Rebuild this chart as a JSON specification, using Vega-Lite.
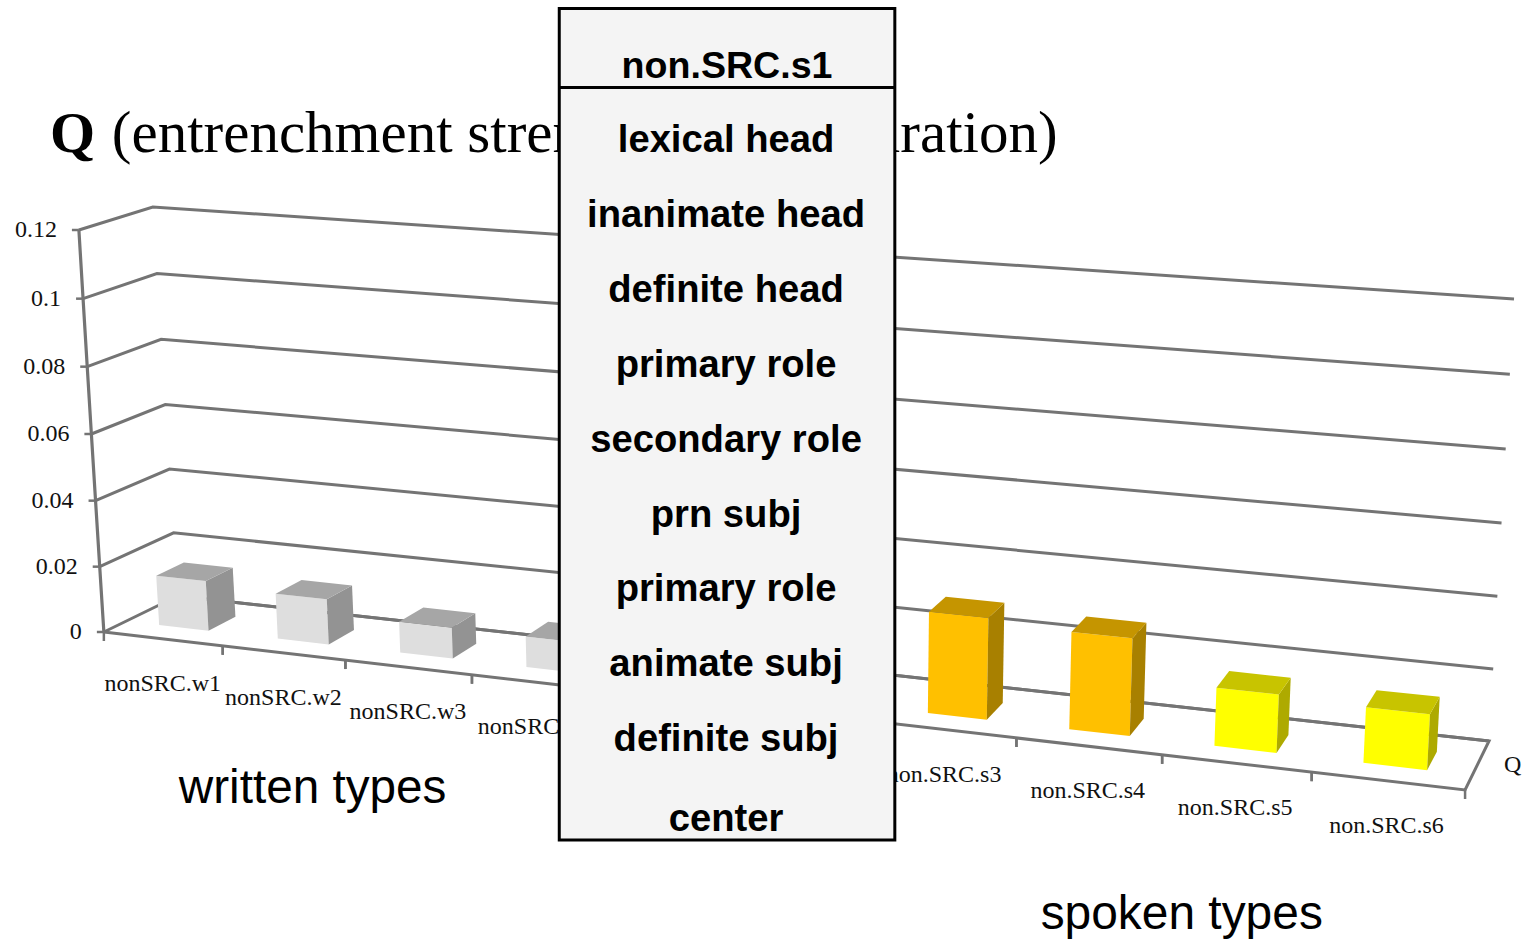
{"$schema":"https://vega.github.io/schema/vega-lite/v6.json","width":1522,"height":939,"padding":0,"autosize":{"type":"fit","contains":"padding"},"background":"white","config":{"view":{"stroke":null},"axis":{"disable":true}},
"datasets":{"bars":[{"label":"nonSRC.w1","type":"written","bar":1,"value":0.0148},{"label":"nonSRC.w2","type":"written","bar":2,"value":0.0133},{"label":"nonSRC.w3","type":"written","bar":3,"value":0.009},{"label":"nonSRC.w4","type":"written","bar":4,"value":0.0088},{"label":"non.SRC.s1","type":"spoken1","bar":5,"value":0.02},{"label":"non.SRC.s2","type":"spoken1","bar":6,"value":0.022},{"label":"non.SRC.s3","type":"spoken1","bar":7,"value":0.028},{"label":"non.SRC.s4","type":"spoken1","bar":8,"value":0.0265},{"label":"non.SRC.s5","type":"spoken2","bar":9,"value":0.0156},{"label":"non.SRC.s6","type":"spoken2","bar":10,"value":0.0147}],
"grid":[{"value":0},{"value":0.02},{"value":0.04},{"value":0.06},{"value":0.08},{"value":0.1},{"value":0.12}],
"box":[{"text":"lexical head","line":0},{"text":"inanimate head","line":1},{"text":"definite head","line":2},{"text":"primary role","line":3},{"text":"secondary role","line":4},{"text":"prn subj","line":5},{"text":"primary role","line":6},{"text":"animate subj","line":7},{"text":"definite subj","line":8}]},
"encoding":{"x":{"field":"px","type":"quantitative","scale":{"domain":[0,1522],"nice":false,"zero":false},"axis":null},"y":{"field":"py","type":"quantitative","scale":{"domain":[939,0],"nice":false,"zero":false},"axis":null}},
"layer":[
{"data":{"name":"grid"},"transform":[{"calculate":"[{n:0,s:0,D:0},{n:1,s:0,D:1},{n:2,s:1,D:1}]","as":"corner"},{"flatten":["corner"]},{"calculate":"datum.corner.s","as":"t"},{"calculate":"datum.corner.D","as":"D"},{"calculate":"datum.corner.n","as":"n"},{"calculate":"datum.value/0.12","as":"f"},{"calculate":"104+1363*datum.t+(74-50*datum.t)*datum.D+datum.f*(-25+50*datum.t)","as":"px"},{"calculate":"632+158*datum.t+(-36-13*datum.t)*datum.D-datum.f*((402+63*datum.t)*(1-datum.D)+(389+53*datum.t)*datum.D)+12*datum.f*(1-datum.f)","as":"py"}],"mark":{"type":"line","color":"#747474","strokeWidth":3},"encoding":{"detail":{"field":"value","type":"nominal"},"order":{"field":"n","type":"quantitative"}}},
{"data":{"name":"grid"},"transform":[{"filter":"datum.value==0"},{"calculate":"[{n:0,s:0,D:1},{n:1,s:1,D:1},{n:2,s:1,D:0},{n:3,s:0,D:0}]","as":"corner"},{"flatten":["corner"]},{"calculate":"datum.corner.s","as":"t"},{"calculate":"datum.corner.D","as":"D"},{"calculate":"datum.corner.n","as":"n"},{"calculate":"104+1363*datum.t+(74-50*datum.t)*datum.D","as":"px"},{"calculate":"632+158*datum.t+(-36-13*datum.t)*datum.D","as":"py"}],"mark":{"type":"line","color":"#747474","strokeWidth":3},"encoding":{"order":{"field":"n","type":"quantitative"}}},
{"data":{"name":"grid"},"transform":[{"calculate":"datum.value/0.12","as":"f"},{"calculate":"104-datum.f*25","as":"px"},{"calculate":"632-datum.f*402+12*datum.f*(1-datum.f)","as":"py"},{"calculate":"datum.px-7","as":"px2"}],"layer":[{"mark":{"type":"line","color":"#747474","strokeWidth":3.2},"encoding":{"order":{"field":"value","type":"quantitative"}}},{"mark":{"type":"rule","color":"#747474","strokeWidth":2.5},"encoding":{"x2":{"field":"px2"}}},{"mark":{"type":"text","align":"right","baseline":"middle","dx":-22,"font":"Liberation Serif","fontSize":24,"color":"#111111"},"encoding":{"text":{"field":"value","type":"nominal"}}}]},
{"data":{"name":"bars"},"transform":[{"calculate":"[0,1]","as":"u"},{"flatten":["u"]},{"calculate":"datum.bar-1+datum.u","as":"i"},{"calculate":"(117.1*datum.i+1.92*datum.i*datum.i)/1363","as":"t"},{"calculate":"104+1363*datum.t","as":"px"},{"calculate":"632+158*datum.t","as":"py"},{"calculate":"datum.py+9","as":"py2"}],"mark":{"type":"rule","color":"#747474","strokeWidth":2.5},"encoding":{"y2":{"field":"py2"}}},
{"data":{"name":"bars"},"transform":[{"calculate":"[{f:'front',n:0,u:0,d:0,h:0},{f:'front',n:1,u:1,d:0,h:0},{f:'front',n:2,u:1,d:0,h:1},{f:'front',n:3,u:0,d:0,h:1},{f:'side',n:0,u:1,d:0,h:0},{f:'side',n:1,u:1,d:1,h:0},{f:'side',n:2,u:1,d:1,h:1},{f:'side',n:3,u:1,d:0,h:1},{f:'top',n:0,u:0,d:0,h:1},{f:'top',n:1,u:1,d:0,h:1},{f:'top',n:2,u:1,d:1,h:1},{f:'top',n:3,u:0,d:1,h:1}]","as":"corner"},{"flatten":["corner"]},{"calculate":"datum.corner.n","as":"n"},{"calculate":"datum.bar-0.715+0.42*datum.corner.u","as":"i"},{"calculate":"0.3+0.38*datum.corner.d","as":"D"},{"calculate":"datum.corner.h*datum.value","as":"V"},{"calculate":"(117.1*datum.i+1.92*datum.i*datum.i)/1363","as":"t"},{"calculate":"104+1363*datum.t+(74-50*datum.t)*datum.D+datum.V/0.12*(-25+50*datum.t)","as":"px"},{"calculate":"632+158*datum.t+(-36-13*datum.t)*datum.D-datum.V/0.12*((402+63*datum.t)*(1-datum.D)+(389+53*datum.t)*datum.D)","as":"py"},{"calculate":"datum.type+'-'+datum.corner.f","as":"shade"},{"calculate":"datum.label+'-'+datum.corner.f","as":"face"}],"mark":{"type":"line","filled":true,"strokeWidth":0},"encoding":{"color":{"field":"shade","type":"nominal","legend":null,"scale":{"domain":["written-front","written-side","written-top","spoken1-front","spoken1-side","spoken1-top","spoken2-front","spoken2-side","spoken2-top"],"range":["#dedede","#939393","#a6a6a6","#ffc000","#a88000","#c59500","#ffff00","#aeaa00","#c8c400"]}},"detail":{"field":"face","type":"nominal"},"order":{"field":"n","type":"quantitative"}}},
{"data":{"name":"bars"},"transform":[{"calculate":"datum.bar-0.5","as":"i"},{"calculate":"(117.1*datum.i+1.92*datum.i*datum.i)/1363","as":"t"},{"calculate":"104+1363*datum.t-1.5*datum.t","as":"px"},{"calculate":"632+158*datum.t+45","as":"py"}],"mark":{"type":"text","align":"center","baseline":"middle","font":"Liberation Serif","fontSize":24,"color":"#111111"},"encoding":{"text":{"field":"label","type":"nominal"}}},
{"data":{"values":[{"t":"Q"}]},"transform":[{"calculate":"1506","as":"px"},{"calculate":"765","as":"py"}],"mark":{"type":"text","align":"left","baseline":"middle","font":"Liberation Serif","fontSize":24,"color":"#111111"},"encoding":{"text":{"field":"t"}}},
{"data":{"values":[{"t":"Q"}]},"transform":[{"calculate":"50","as":"px"},{"calculate":"152","as":"py"}],"mark":{"type":"text","align":"left","baseline":"alphabetic","font":"Liberation Serif","fontSize":58,"fontWeight":"bold","color":"#000000"},"encoding":{"text":{"field":"t"}}},
{"data":{"values":[{"t":"(entrenchment strength"}]},"transform":[{"calculate":"112","as":"px"},{"calculate":"152","as":"py"}],"mark":{"type":"text","align":"left","baseline":"alphabetic","font":"Liberation Serif","fontSize":59,"color":"#000000"},"encoding":{"text":{"field":"t"}}},
{"data":{"values":[{"t":"configuration)"}]},"transform":[{"calculate":"1059","as":"px"},{"calculate":"152","as":"py"}],"mark":{"type":"text","align":"right","baseline":"alphabetic","font":"Liberation Serif","fontSize":59,"color":"#000000"},"encoding":{"text":{"field":"t"}}},
{"data":{"values":[{"t":"written types"}]},"transform":[{"calculate":"179","as":"px"},{"calculate":"803","as":"py"}],"mark":{"type":"text","align":"left","baseline":"alphabetic","font":"Liberation Sans","fontSize":47.7,"color":"#000000"},"encoding":{"text":{"field":"t"}}},
{"data":{"values":[{"t":"spoken types"}]},"transform":[{"calculate":"1042","as":"px"},{"calculate":"929","as":"py"}],"mark":{"type":"text","align":"left","baseline":"alphabetic","font":"Liberation Sans","fontSize":47.9,"color":"#000000"},"encoding":{"text":{"field":"t"}}},
{"data":{"values":[{"t":"box"}]},"transform":[{"calculate":"560","as":"px"},{"calculate":"896","as":"px2"},{"calculate":"8.5","as":"py"},{"calculate":"840","as":"py2"}],"mark":{"type":"rect","fill":"#f4f4f4","stroke":"#000000","strokeWidth":3},"encoding":{"x2":{"field":"px2"},"y2":{"field":"py2"}}},
{"data":{"values":[{"t":"rule"}]},"transform":[{"calculate":"560","as":"px"},{"calculate":"896","as":"px2"},{"calculate":"87.5","as":"py"}],"mark":{"type":"rule","stroke":"#000000","strokeWidth":3},"encoding":{"x2":{"field":"px2"}}},
{"data":{"values":[{"t":"non.SRC.s1"}]},"transform":[{"calculate":"728","as":"px"},{"calculate":"78","as":"py"}],"mark":{"type":"text","align":"center","baseline":"alphabetic","font":"Liberation Sans","fontWeight":"bold","fontSize":37.6,"color":"#000000"},"encoding":{"text":{"field":"t"}}},
{"data":{"name":"box"},"transform":[{"calculate":"152+74.9*datum.line","as":"py"},{"calculate":"727","as":"px"}],"mark":{"type":"text","align":"center","baseline":"alphabetic","font":"Liberation Sans","fontWeight":"bold","fontSize":38.2,"color":"#000000"},"encoding":{"text":{"field":"text","type":"nominal"}}},
{"data":{"values":[{"t":"center"}]},"transform":[{"calculate":"727","as":"px"},{"calculate":"831","as":"py"}],"mark":{"type":"text","align":"center","baseline":"alphabetic","font":"Liberation Sans","fontWeight":"bold","fontSize":38.2,"color":"#000000"},"encoding":{"text":{"field":"t"}}}
]}
